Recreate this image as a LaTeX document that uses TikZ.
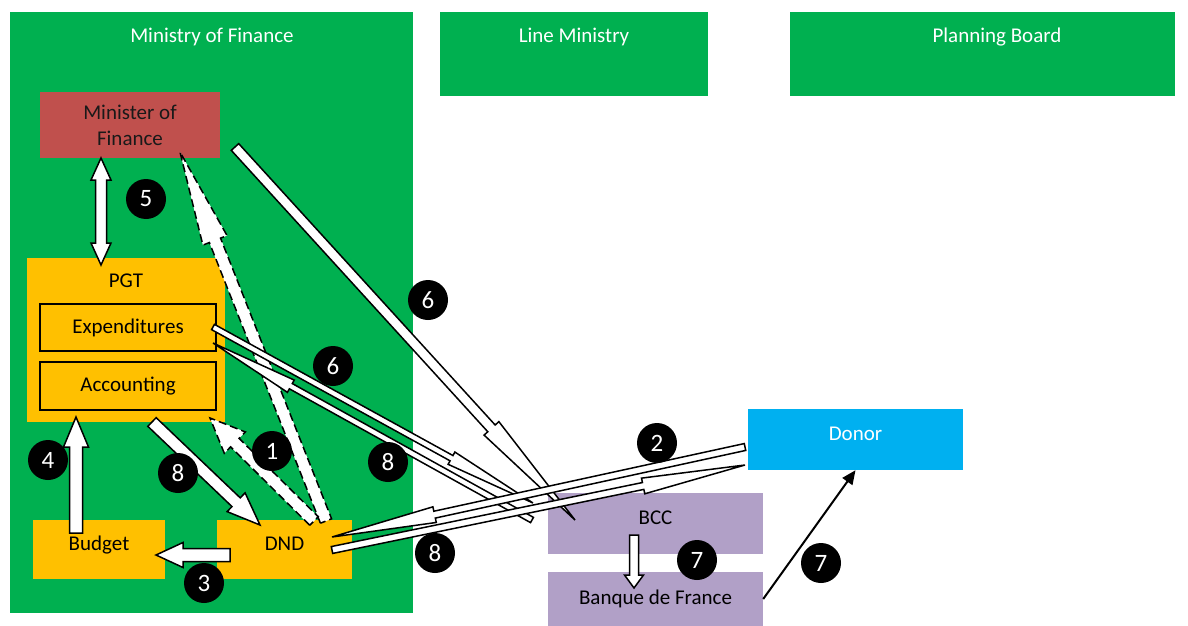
\documentclass[tikz,border=0pt]{standalone}
\usepackage{fontspec}
\setmainfont{Carlito}
\usetikzlibrary{calc,arrows.meta,positioning}

\definecolor{mofgreen}{HTML}{00B050}
\definecolor{minred}{HTML}{C0504D}
\definecolor{pgtorange}{HTML}{FFC000}
\definecolor{donorblue}{HTML}{00B0F0}
\definecolor{bankpurple}{HTML}{B1A0C7}

% block arrow: [opts]{from}{to}{shaft half width}{head half width}{head length}
\newcommand{\blockarrow}[6][]{%
  \path ($(#3)!#6!(#2)$) coordinate (hb);
  \draw[blockline,#1] ($(#2)!#4!90:(#3)$) -- ($(hb)!#4!-90:(#2)$) -- ($(hb)!#5!-90:(#2)$)
    -- (#3) -- ($(hb)!#5!90:(#2)$) -- ($(hb)!#4!90:(#2)$) -- ($(#2)!#4!-90:(#3)$) -- cycle;}
% same, with a head at both ends
\newcommand{\dblockarrow}[6][]{%
  \path ($(#3)!#6!(#2)$) coordinate (hb) ($(#2)!#6!(#3)$) coordinate (ha);
  \draw[blockline,#1] (#2) -- ($(ha)!#5!90:(#3)$) -- ($(ha)!#4!90:(#3)$) -- ($(hb)!#4!-90:(#2)$)
    -- ($(hb)!#5!-90:(#2)$) -- (#3) -- ($(hb)!#5!90:(#2)$) -- ($(hb)!#4!90:(#2)$)
    -- ($(ha)!#4!-90:(#3)$) -- ($(ha)!#5!-90:(#3)$) -- cycle;}

\begin{document}
\begin{tikzpicture}[x=1pt, y=-1pt,
    font=\fontsize{21}{26}\selectfont,
    frame/.style={fill=mofgreen, inner sep=0},
    title/.style={text=white, inner sep=0},
    unit/.style={fill=pgtorange, inner sep=0},
    topbox/.style={text height=15pt, text depth=13pt},
    subunit/.style={draw=black, line width=1.5pt, inner sep=0, minimum width=176pt},
    bank/.style={fill=bankpurple, inner sep=0, minimum width=215pt},
    num/.style={circle, fill=black, text=white, inner sep=0, minimum size=40pt,
      font=\fontsize{25}{28}\selectfont},
    blockline/.style={draw=black, fill=white, line width=1.5pt, line join=miter},
    dashline/.style={dash pattern=on 8pt off 4pt}]
  \useasboundingbox (0,0) rectangle (1188,626);

  % Frames
  \node[frame, minimum width=403pt, minimum height=601pt] (mof) at (211.5,312.5) {};
  \node[frame, minimum width=268pt, minimum height=84pt] (line) at (574,54) {};
  \node[frame, minimum width=385pt, minimum height=84pt] (plan) at (982.5,54) {};
  \node[title] (mofT) at (212,37) {Ministry of Finance};
  \node[title] (lineT) at (574,37) {Line Ministry};
  \node[title] (planT) at (997,37) {Planning Board};

  % Boxes
  \node[fill=minred, text=black!90, align=center, inner sep=0,
    minimum width=180pt, minimum height=66pt] (minister) at (130,125) {Minister of\\Finance};
  \node[unit, minimum width=198pt, minimum height=164pt] (pgt) at (126,340) {};
  \node[inner sep=0] (pgtT) at (126,281) {PGT};
  \node[subunit, minimum height=47pt] (exp) at (128,327.5) {Expenditures};
  \node[subunit, minimum height=48pt] (acc) at (128,386) {Accounting};
  \node[unit, topbox, minimum width=132pt, minimum height=59pt] (budget) at (99,549.5) {Budget};
  \node[unit, topbox, minimum width=135pt, minimum height=59pt] (dnd) at (284.5,549.5) {DND};
  \node[fill=donorblue, text=white, topbox, inner sep=0,
    minimum width=215pt, minimum height=61pt] (donor) at (855.5,439.5) {Donor};
  \node[bank, topbox, minimum height=61pt] (bcc) at (655.5,523.5) {BCC};
  \node[bank, minimum height=54pt] (bdf) at (655.5,599) {Banque de France};

  % Arrow ends
  \coordinate (dndA) at (326,521);
  \coordinate (dndB) at (314,521);
  \coordinate (minTip) at (180,152);
  \coordinate (accTip) at (210,418);
  \coordinate (accOut) at (152,422);
  \coordinate (dndIn) at (260,525);
  \coordinate (minOut) at (235,147);
  \coordinate (bccIn) at (575,520);
  \coordinate (expOut) at (213,327);
  \coordinate (bccA) at (533,503);
  \coordinate (bccB) at (532,520);
  \coordinate (expIn) at (213,343);
  \coordinate (donorOut) at (745,447);
  \coordinate (dndTip) at (332,537);
  \coordinate (dndOut) at (332,550);
  \coordinate (donorIn) at (745,465);
  \coordinate (budOut) at (76,533);
  \coordinate (pgtIn) at (76,417);
  \coordinate (dndLeft) at (230,555);
  \coordinate (budIn) at (156,555);
  \coordinate (minBot) at (101,158);
  \coordinate (pgtTop) at (101,265);
  \coordinate (bccOut) at (634,535);
  \coordinate (bdfIn) at (634,588);

  % Flows
  \blockarrow[dashline]{dndA}{minTip}{6pt}{13pt}{95pt}
  \blockarrow[dashline]{dndB}{accTip}{6pt}{15pt}{35pt}
  \blockarrow{accOut}{dndIn}{6pt}{13pt}{33pt}
  \blockarrow{minOut}{bccIn}{5pt}{10pt}{124pt}
  \blockarrow{expOut}{bccA}{3pt}{7pt}{93pt}
  \blockarrow{bccB}{expIn}{3pt}{7pt}{89pt}
  \blockarrow{donorOut}{dndTip}{3.5pt}{8pt}{105pt}
  \blockarrow{dndOut}{donorIn}{3.5pt}{8pt}{104pt}
  \blockarrow{budOut}{pgtIn}{6.5pt}{12.5pt}{30pt}
  \blockarrow{dndLeft}{budIn}{6.5pt}{12.5pt}{27pt}
  \blockarrow{bccOut}{bdfIn}{4.5pt}{9.5pt}{13pt}
  \dblockarrow{minBot}{pgtTop}{5.5pt}{10pt}{22pt}
  \draw[line width=2pt, -{Triangle[length=14pt, width=12pt]}] (bdf.east) -- (donor.south);

  % Step numbers
  \node[num] (n5) at (146,199) {5};
  \node[num] (n6a) at (428,300) {6};
  \node[num] (n6b) at (333,366) {6};
  \node[num] (n1) at (272,451) {1};
  \node[num] (n8a) at (388,462) {8};
  \node[num] (n8b) at (178,473) {8};
  \node[num] (n4) at (48,460) {4};
  \node[num] (n2) at (657,443) {2};
  \node[num] (n3) at (204,583) {3};
  \node[num] (n8c) at (435,553) {8};
  \node[num] (n7a) at (697,560) {7};
  \node[num] (n7b) at (821,563) {7};
\end{tikzpicture}
\end{document}
